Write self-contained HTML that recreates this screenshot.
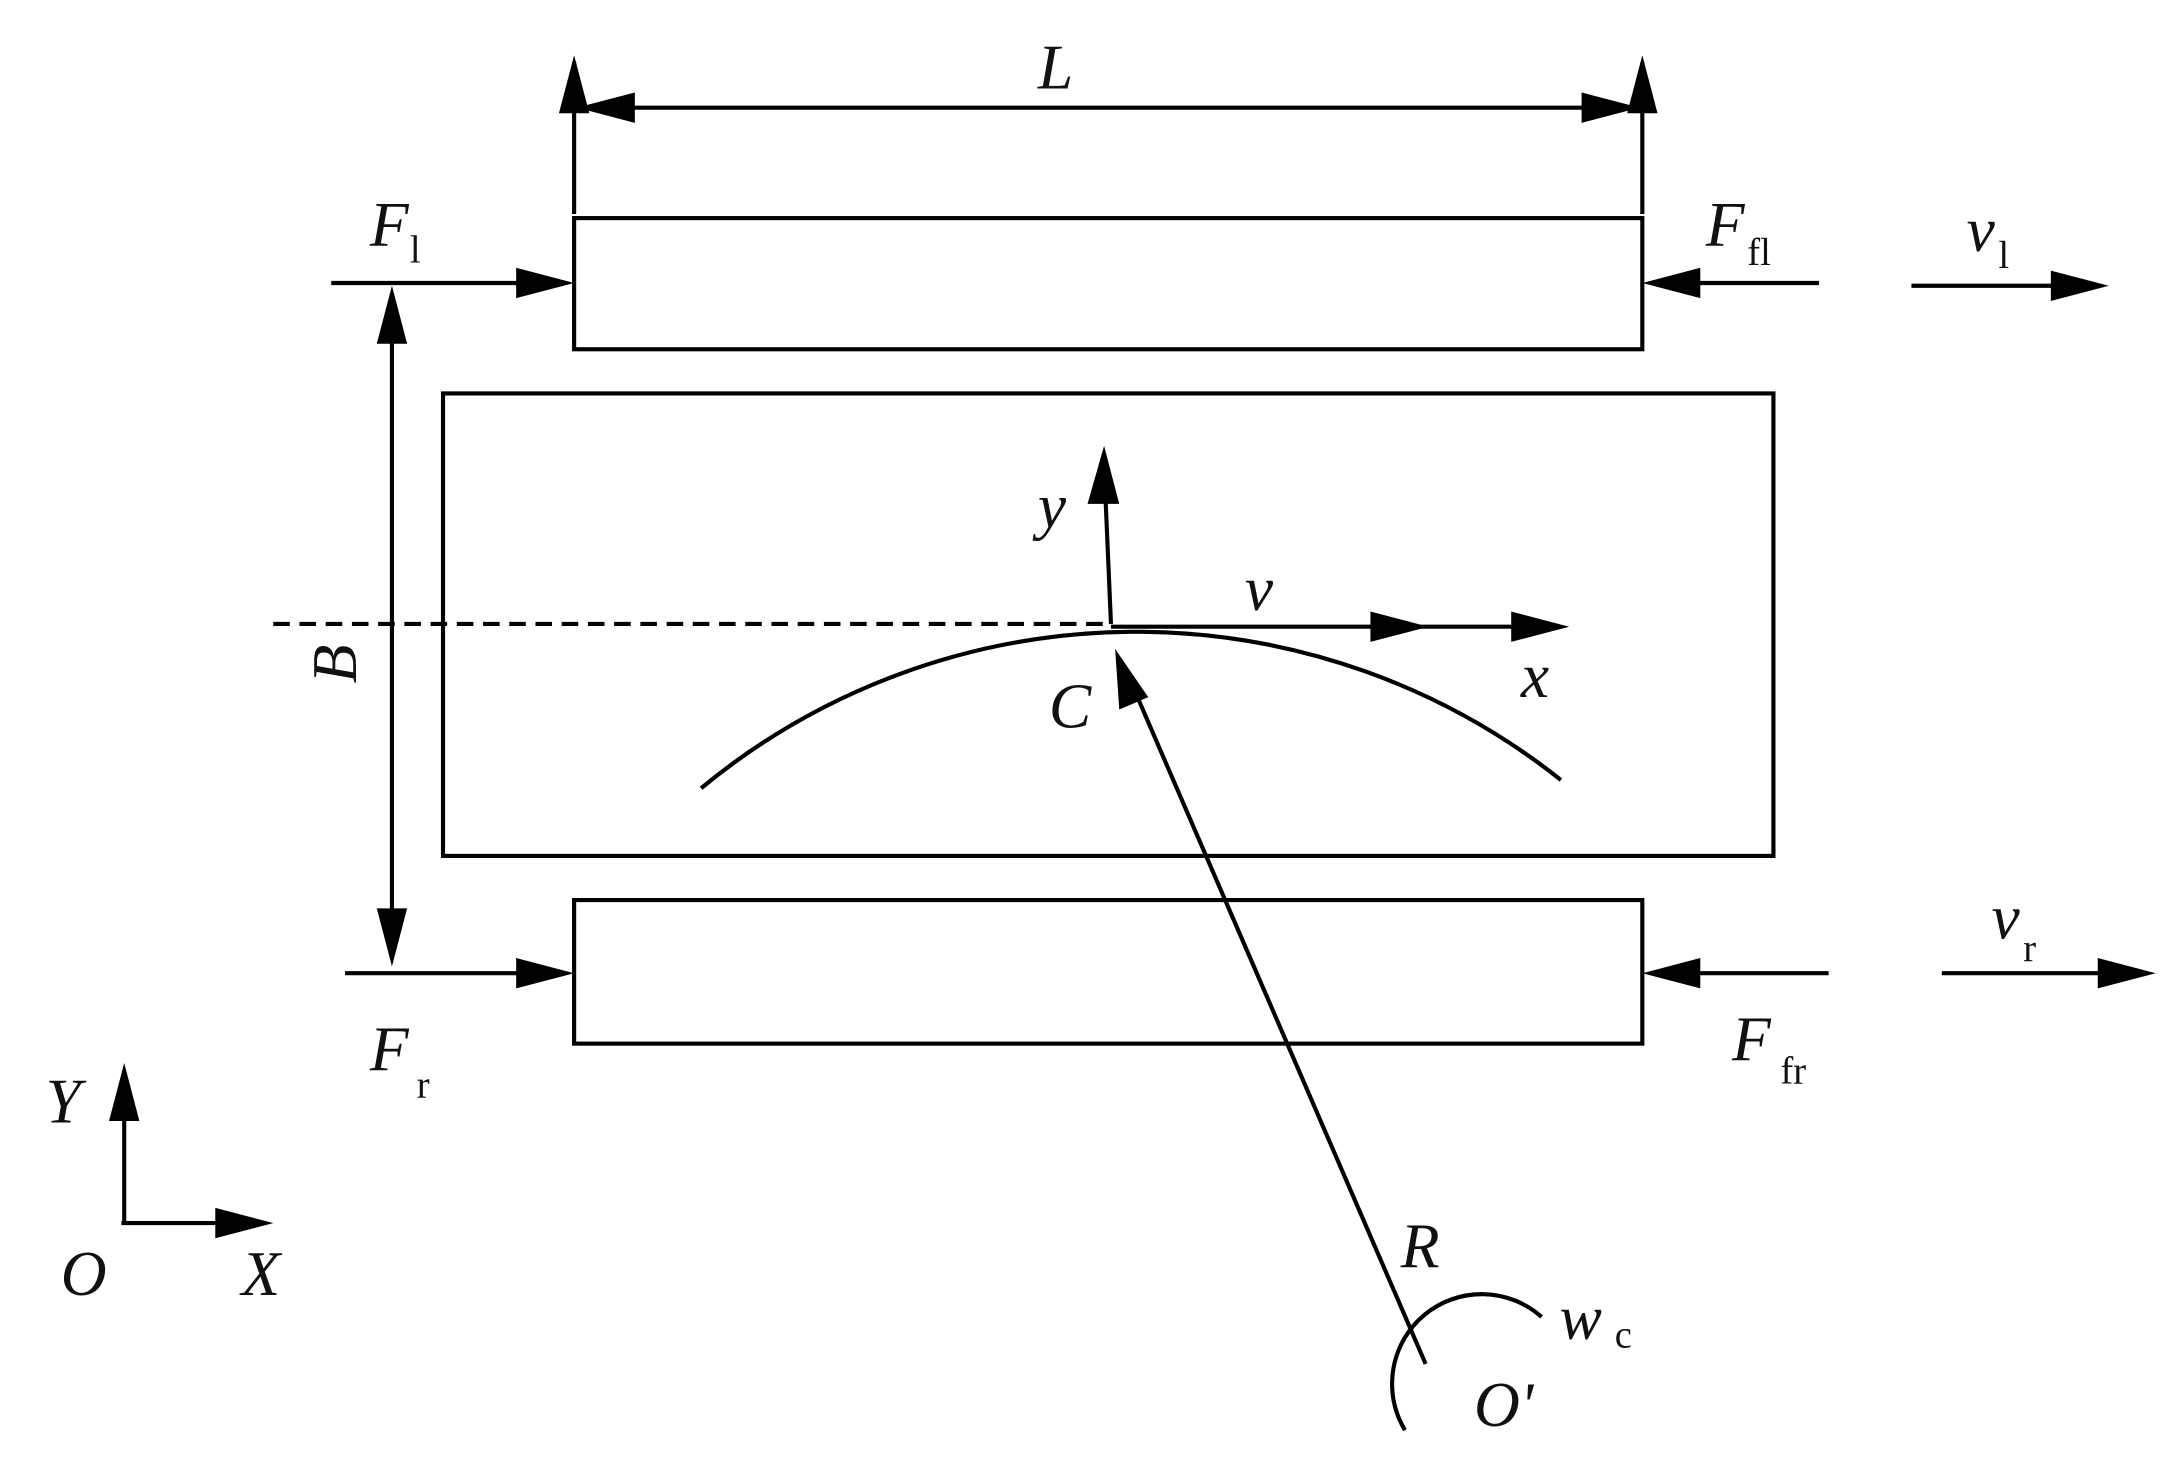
<!DOCTYPE html>
<html><head><meta charset="utf-8"><style>
html,body{margin:0;padding:0;background:#fff;}
svg{display:block;}
text{font-family:"Liberation Serif",serif;fill:#111;}
.i{font-style:italic;font-size:46px;}
.s{font-size:28px;}
</style></head><body>
<svg width="2164" height="1484" viewBox="0 0 1568 1075" preserveAspectRatio="none" xmlns="http://www.w3.org/2000/svg">
<g fill="none" stroke="#000" stroke-width="3">
<line x1="416" y1="155" x2="416" y2="45"/>
<path d="M416,40 l-11,42 l22,0 z" fill="#000" stroke="none"/>
<line x1="1190" y1="155" x2="1190" y2="45"/>
<path d="M1190,40 l-11,42 l22,0 z" fill="#000" stroke="none"/>
<line x1="416" y1="78" x2="1190" y2="78"/>
<path d="M418,78 l42,-11 l0,22 z" fill="#000" stroke="none"/>
<path d="M1188,78 l-42,-11 l0,22 z" fill="#000" stroke="none"/>
<rect x="416" y="158" width="774" height="95"/>
<rect x="321" y="285" width="964" height="335"/>
<rect x="416" y="652" width="774" height="104"/>
<line x1="240" y1="205" x2="380" y2="205"/>
<path d="M416,205 l-42,-11 l0,22 z" fill="#000" stroke="none"/>
<line x1="1318" y1="205" x2="1225" y2="205"/>
<path d="M1190,205 l42,-11 l0,22 z" fill="#000" stroke="none"/>
<line x1="1385" y1="207" x2="1490" y2="207"/>
<path d="M1528,207 l-42,-11 l0,22 z" fill="#000" stroke="none"/>
<line x1="250" y1="705" x2="380" y2="705"/>
<path d="M416,705 l-42,-11 l0,22 z" fill="#000" stroke="none"/>
<line x1="1325" y1="705" x2="1225" y2="705"/>
<path d="M1190,705 l42,-11 l0,22 z" fill="#000" stroke="none"/>
<line x1="1407" y1="705" x2="1525" y2="705"/>
<path d="M1562,705 l-42,-11 l0,22 z" fill="#000" stroke="none"/>
<line x1="284" y1="240" x2="284" y2="665"/>
<path d="M284,207 l-11,42 l22,0 z" fill="#000" stroke="none"/>
<path d="M284,700 l-11,-42 l22,0 z" fill="#000" stroke="none"/>
<line x1="198" y1="452" x2="805" y2="452" stroke-dasharray="12,7"/>
<line x1="805" y1="452" x2="801" y2="360"/>
<path d="M800,323 l-12,42 l23,0 z" fill="#000" stroke="none"/>
<line x1="805" y1="454" x2="1100" y2="454"/>
<path d="M1035,454 l-42,-11 l0,22 z" fill="#000" stroke="none"/>
<path d="M1137,454 l-42,-11 l0,22 z" fill="#000" stroke="none"/>
<path d="M508,571 A495,495 0 0 1 1131,565"/>
<line x1="1033" y1="988" x2="822" y2="500"/>
<path d="M808,470 l3,44 l21,-9 z" fill="#000" stroke="none"/>
<path d="M1018,1036 A65,65 0 0 1 1117,954"/>
<line x1="90" y1="886" x2="90" y2="800"/>
<path d="M90,770 l-11,42 l22,0 z" fill="#000" stroke="none"/>
<line x1="88" y1="886" x2="165" y2="886"/>
<path d="M198,886 l-42,-11 l0,22 z" fill="#000" stroke="none"/>
</g>
<text class="i" x="752" y="64">L</text>
<text class="i" x="268" y="178">F</text><text class="s" x="297" y="190">l</text>
<text class="i" x="1236" y="178">F</text><text class="s" x="1266" y="192">fl</text>
<text class="i" x="1425" y="182">v</text><text class="s" x="1448" y="194">l</text>
<text class="i" x="268" y="775">F</text><text class="s" x="302" y="795">r</text>
<text class="i" x="1255" y="768">F</text><text class="s" x="1290" y="785">fr</text>
<text class="i" x="1443" y="680">v</text><text class="s" x="1466" y="696">r</text>
<text class="i" transform="translate(258,495) rotate(-90)">B</text>
<text class="i" x="752" y="382">y</text>
<text class="i" x="902" y="442">v</text>
<text class="i" x="1102" y="505">x</text>
<text class="i" x="760" y="527">C</text>
<text class="i" x="1015" y="918">R</text>
<text class="i" x="1130" y="970">w</text><text class="s" x="1170" y="976">c</text>
<text class="i" x="1068" y="1033">O'</text>
<text class="i" x="33" y="813">Y</text>
<text class="i" x="44" y="938">O</text>
<text class="i" x="175" y="938">X</text>
</svg>
</body></html>
